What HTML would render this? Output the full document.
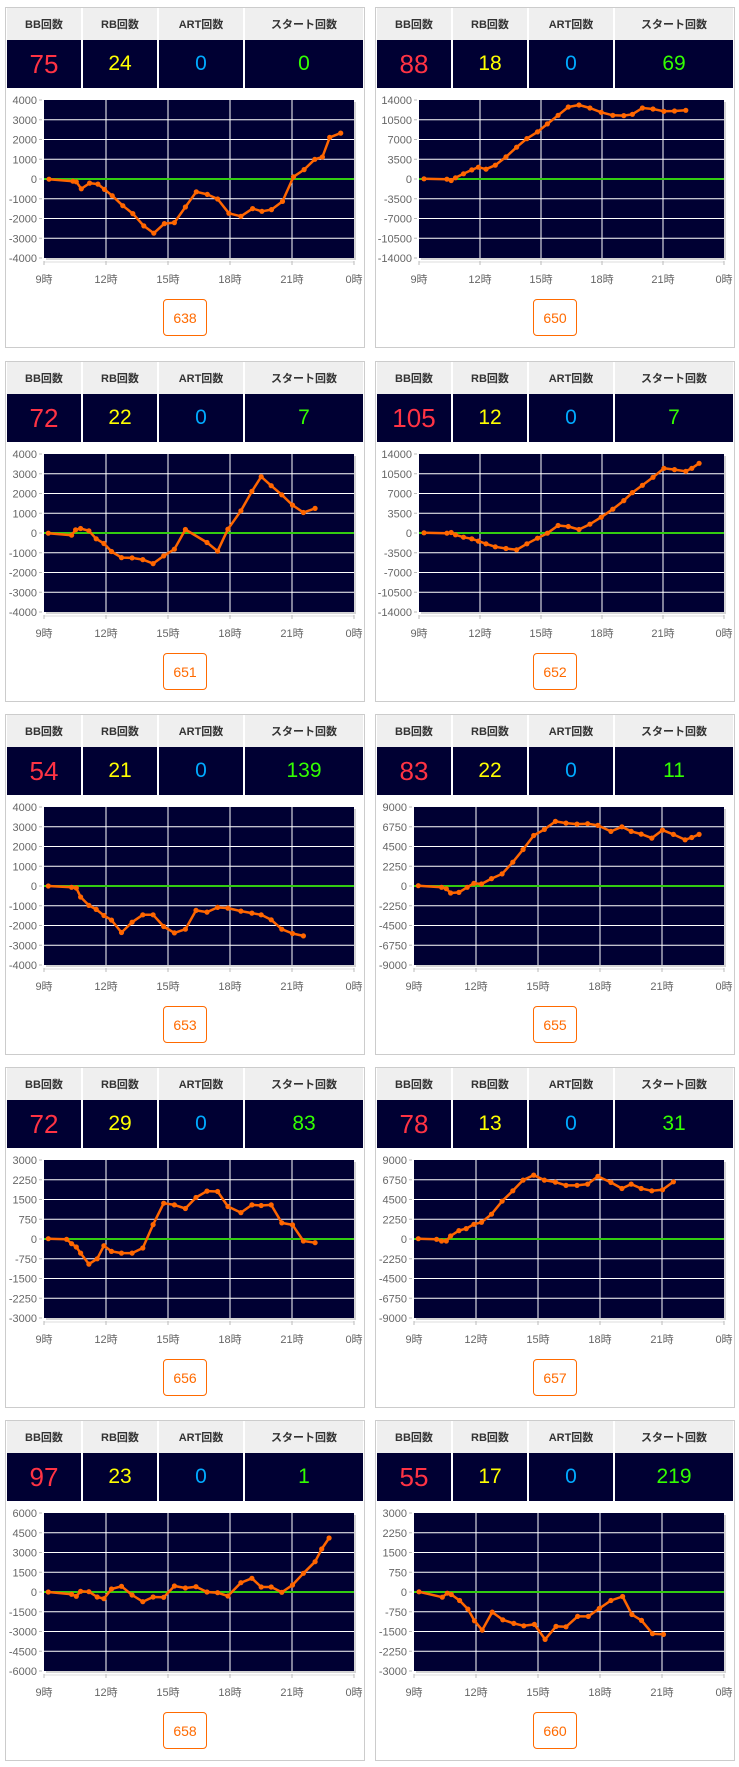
<!DOCTYPE html>
<html><head><meta charset="utf-8">
<style>
*{margin:0;padding:0;box-sizing:border-box}
body{width:739px;height:1767px;background:#fff;position:relative;font-family:"Liberation Sans","Noto Sans CJK JP",sans-serif;overflow:hidden}
.card{position:absolute;width:360px;height:341px;border:1px solid #ccc;background:#fff}
.hd,.vl{position:absolute;left:1px;width:356px;display:flex}
.hd{top:0;height:32px;background:#efefef}
.vl{top:32px;height:48px;background:#000033}
.hd div,.vl div{border-right:2px solid #fff;display:flex;align-items:center;justify-content:center}
.hd div{font-size:11px;font-weight:bold;color:#333}
.hd div:last-child,.vl div:last-child{border-right:none}
.c1{width:76px}.c2{width:76px}.c3{width:86px}.c4{flex:1}
.vl div{font-size:21px}
.vl .c1{color:#ff3344;font-size:26px}.vl .c2{color:#ffff00}.vl .c3{color:#00aaff}.vl .c4{color:#33ff00}
svg{position:absolute;left:0;top:0}
.btn{position:absolute;left:157px;top:291px;width:44px;height:37px;border:1px solid #ff6a00;border-radius:4px;color:#ff6a00;font-size:14px;display:flex;align-items:center;justify-content:center}
</style></head><body>
<script>
var charts=[
{n:"638",v:["75","24","0","0"],max:4000,b:[128,1060,298,775],p:[[143,537],[215,543],[225,545],[240,566],[265,549],[290,552],[310,568],[333,587],[365,617],[395,641],[428,678],[458,700],[490,671],[520,668],[553,621],[586,575],[619,583],[650,597],[684,640],[720,649],[755,626],[783,634],[812,629],[845,604],[878,530],[910,508],[942,477],[965,470],[987,411],[1020,398]]},
{n:"650",v:["88","18","0","69"],max:14000,b:[128,1047,30,505],p:[[143,267],[212,268],[225,272],[238,264],[262,252],[287,240],[307,232],[330,238],[358,226],[390,201],[422,172],[453,146],[485,126],[515,102],[547,76],[578,51],[610,45],[643,54],[677,67],[712,76],[745,77],[771,73],[801,54],[833,57],[866,64],[898,63],[932,61]]},
{n:"651",v:["72","22","0","7"],max:4000,b:[115,1047,30,503],p:[[128,267],[198,273],[210,257],[225,253],[250,260],[272,284],[295,298],[318,322],[348,340],[380,341],[412,346],[443,358],[475,335],[507,315],[540,256],[605,295],[637,321],[668,255],[707,200],[740,142],[768,98],[798,125],[830,152],[862,183],[895,205],[930,193]]},
{n:"652",v:["105","12","0","7"],max:14000,b:[128,1047,30,505],p:[[143,267],[212,268],[225,266],[238,273],[262,280],[287,285],[307,292],[330,300],[358,309],[390,314],[422,318],[453,300],[485,283],[515,268],[547,245],[578,248],[610,257],[643,241],[677,220],[712,196],[745,170],[771,146],[801,124],[833,100],[866,73],[898,77],[932,82],[950,73],[972,58]]},
{n:"653",v:["54","21","0","139"],max:4000,b:[115,1047,28,500],p:[[128,264],[198,268],[212,270],[225,297],[250,322],[272,334],[295,352],[318,366],[348,403],[380,372],[412,350],[443,350],[475,385],[507,404],[540,393],[572,337],[605,342],[637,328],[668,330],[707,339],[740,345],[768,350],[798,365],[830,393],[862,406],[895,413]]},
{n:"655",v:["83","22","0","11"],max:9000,b:[115,1047,28,500],p:[[128,263],[198,268],[212,272],[225,285],[250,283],[275,268],[295,256],[318,258],[348,242],[380,228],[412,193],[443,155],[475,113],[507,95],[540,71],[572,76],[605,79],[637,78],[668,83],[707,101],[740,87],[768,101],[798,109],[830,121],[862,97],[895,110],[930,126],[950,119],[972,110]]},
{n:"656",v:["72","29","0","83"],max:3000,b:[115,1047,28,500],p:[[128,263],[183,265],[198,278],[212,288],[225,306],[250,339],[275,323],[295,284],[318,301],[348,306],[380,306],[412,291],[443,221],[475,157],[507,162],[540,173],[572,140],[605,121],[637,122],[668,167],[707,185],[740,162],[768,164],[798,162],[830,216],[862,222],[895,270],[930,275]]},
{n:"657",v:["78","13","0","31"],max:9000,b:[115,1047,28,500],p:[[128,263],[183,265],[198,270],[212,270],[225,255],[250,239],[272,233],[295,220],[318,214],[348,190],[380,151],[412,120],[443,88],[475,73],[507,88],[540,94],[572,104],[605,104],[637,100],[668,77],[707,95],[740,113],[768,100],[798,113],[830,120],[862,117],[895,93]]},
{n:"658",v:["97","23","0","1"],max:6000,b:[115,1047,24,498],p:[[128,261],[198,268],[212,274],[225,259],[250,260],[275,276],[295,281],[318,252],[348,244],[380,270],[412,290],[443,276],[475,277],[507,243],[540,249],[572,245],[605,261],[637,263],[668,273],[707,233],[740,220],[768,246],[798,246],[830,262],[862,240],[895,205],[930,170],[950,132],[972,99]]},
{n:"660",v:["55","17","0","219"],max:3000,b:[128,1060,335,810],p:[[143,572],[213,588],[228,576],[240,580],[265,598],[290,624],[310,659],[333,687],[363,633],[395,656],[428,667],[458,674],[490,670],[522,715],[555,676],[585,677],[620,646],[652,646],[685,622],[720,598],[755,586],[783,640],[812,658],[845,698],[878,700]]}
];
var html="";
charts.forEach(function(c,i){
 var L=i%2?375:5, T=Math.round(7.3+353.2*Math.floor(i/2));
 var labs=[];for(var k=0;k<=8;k++){labs.push(String(Math.round(c.max-k*c.max/4)));}
 var wide=labs.some(function(s){return s.length>=6;});
 var px0=wide?43:38, px1=348, py0=92, py1=250;
 var s='<svg width="358" height="339" viewBox="0 0 358 339">';
 // shadow
 s+='<rect x="'+(px0+2)+'" y="'+(py0+2)+'" width="'+(px1-px0)+'" height="'+(py1-py0)+'" fill="#d4d4d4"/>';
 s+='<rect x="'+px0+'" y="'+py0+'" width="'+(px1-px0)+'" height="'+(py1-py0)+'" fill="#000033"/>';
 for(var k=0;k<=8;k++){var y=py0+k*(py1-py0)/8;
  if(k>0&&k<8)s+='<line x1="'+px0+'" x2="'+px1+'" y1="'+y+'" y2="'+y+'" stroke="#fff" stroke-width="1"/>';
  s+='<line x1="'+(px0-5)+'" x2="'+(px0-2)+'" y1="'+y+'" y2="'+y+'" stroke="#bbb"/>';
  s+='<text x="'+(px0-7)+'" y="'+(y+4)+'" text-anchor="end" font-size="11" fill="#666">'+labs[k]+'</text>';}
 var xl=["9時","12時","15時","18時","21時","0時"];
 s+='<line x1="'+px0+'" x2="'+px1+'" y1="'+(py1+4)+'" y2="'+(py1+4)+'" stroke="#ddd"/>';
 for(var k=0;k<=5;k++){var x=px0+k*(px1-px0)/5;
  if(k>0&&k<5)s+='<line x1="'+x+'" x2="'+x+'" y1="'+py0+'" y2="'+py1+'" stroke="#fff" stroke-width="1"/>';
  s+='<line x1="'+x+'" x2="'+x+'" y1="'+(py1+3)+'" y2="'+(py1+7)+'" stroke="#bbb"/>';
  s+='<text x="'+x+'" y="'+(py1+25)+'" text-anchor="middle" font-size="11" fill="#666">'+xl[k]+'</text>';}
 var ym=(py0+py1)/2;
 s+='<line x1="'+px0+'" x2="'+px1+'" y1="'+ym+'" y2="'+ym+'" stroke="#33cc11" stroke-width="2"/>';
 var b=c.b, pts=c.p.map(function(p){
   var x=px0+(p[0]-b[0])/(b[1]-b[0])*(px1-px0);
   var y=py0+(p[1]-b[2])/(b[3]-b[2])*(py1-py0);
   return [x.toFixed(1),y.toFixed(1)];});
 s+='<polyline points="'+pts.map(function(p){return p.join(",");}).join(" ")+'" fill="none" stroke="#ff6600" stroke-width="2.5" stroke-linejoin="round"/>';
 pts.forEach(function(p){s+='<circle cx="'+p[0]+'" cy="'+p[1]+'" r="2.6" fill="#ff6600"/>';});
 s+='</svg>';
 html+='<div class="card" style="left:'+L+'px;top:'+T+'px">'+s+
 '<div class="hd"><div class="c1">BB回数</div><div class="c2">RB回数</div><div class="c3">ART回数</div><div class="c4">スタート回数</div></div>'+
 '<div class="vl"><div class="c1">'+c.v[0]+'</div><div class="c2">'+c.v[1]+'</div><div class="c3">'+c.v[2]+'</div><div class="c4">'+c.v[3]+'</div></div>'+
 '<div class="btn">'+c.n+'</div></div>';
});
document.body.innerHTML+=html;
</script>
</body></html>
